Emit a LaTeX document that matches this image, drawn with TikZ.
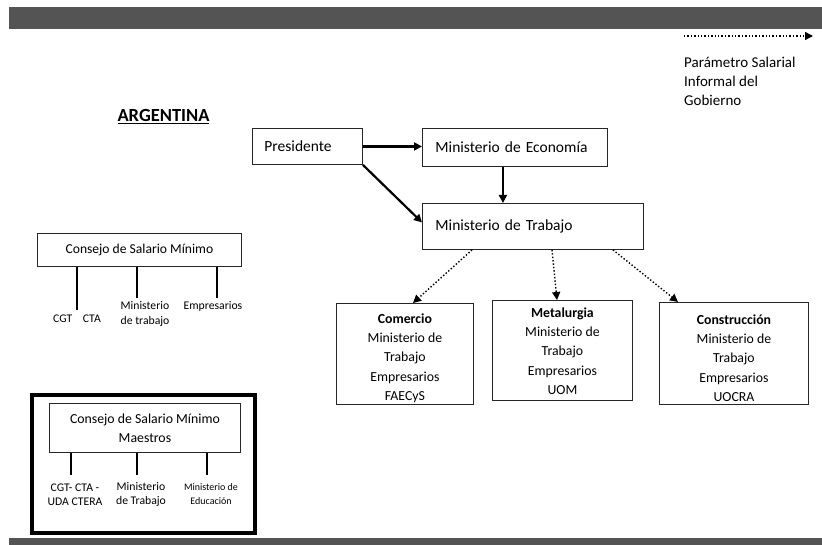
\documentclass[tikz,border=0pt]{standalone}
\usepackage{fontspec}
\setmainfont{Carlito}
\usepackage{xcolor}
\usepackage{tikz}
\usetikzlibrary{arrows.meta}
\usetikzlibrary{positioning}
\definecolor{barra}{HTML}{545454}
\newcommand{\alto}[1]{\rule{0pt}{#1}}

\begin{document}
\begin{tikzpicture}[x=1pt,y=-1pt,
    caja/.style={draw=black!85, line width=0.9pt, inner sep=0pt, anchor=north west},
    cajatexto/.style={caja, align=left, font=\fontsize{15.5}{18}\selectfont},
    sector/.style={caja, align=center, font=\fontsize{13.8}{19.2}\selectfont},
    etiqueta/.style={align=center, inner sep=0pt, anchor=north, font=\fontsize{11.7}{15}\selectfont},
    flecha/.style={line width=2.2pt, -{Triangle[length=8pt,width=8pt]}},
    punteada/.style={line width=1.4pt, dotted, -{Triangle[length=8pt,width=8pt]}},
    rama/.style={line width=1.8pt}]
        \useasboundingbox (0,0) rectangle (822,545);
        \fill[barra] (9,7) rectangle (822,29);
        \fill[barra] (9,538) rectangle (822,545);
        % leyenda
        \coordinate (ini) at (684,36);
        \coordinate (fin) at (813,36);
        \draw[punteada] (ini) -- (fin);
        \node[anchor=north west, align=left, inner sep=0pt, font=\fontsize{15}{19}\selectfont] (parametro) at (684,57) {Parámetro Salarial\\Informal del\\Gobierno};
        \node[font=\bfseries\fontsize{18.5}{22}\selectfont] (argentina) at (163.5,117) {\underline{ARGENTINA}};
        % gobierno
        \node[cajatexto, minimum width=110pt, minimum height=36pt, text width=86pt, inner xsep=12pt] (presidente) at (252,128) {Presidente};
        \node[cajatexto, minimum width=185pt, minimum height=38pt, text width=159pt, inner xsep=13pt] (economia) at (422,128) {Ministerio de Economía};
        \node[cajatexto, minimum width=221pt, minimum height=46pt, text width=195pt, inner xsep=13pt] (trabajo) at (422,203) {Ministerio de Trabajo};
        \draw[flecha] (presidente.east) -- (presidente.east -| economia.west);
        \draw[flecha] (presidente.south east) -- ([yshift=4pt]trabajo.west);
        \coordinate (eco) at ([xshift=-12pt]economia.south);
        \draw[flecha] (eco) -- (eco |- trabajo.north);
        % sectores
        \node[sector, minimum width=137pt, minimum height=101pt] (comercio) at (336,303) {\alto{18pt}\textbf{Comercio}\\Ministerio de\\Trabajo\\Empresarios\\FAECyS};
        \node[sector, minimum width=140pt, minimum height=100pt] (metalurgia) at (492,300) {\alto{11pt}\textbf{Metalurgia}\\Ministerio de\\Trabajo\\Empresarios\\UOM};
        \node[sector, minimum width=149pt, minimum height=102pt] (construccion) at (659,302) {\alto{19pt}\textbf{Construcción}\\Ministerio de\\Trabajo\\Empresarios\\UOCRA};
        \draw[punteada] ([xshift=50pt]trabajo.south west) -- ([xshift=77pt]comercio.north west);
        \draw[punteada] ([xshift=130pt]trabajo.south west) -- ([xshift=65pt]metalurgia.north west);
        \draw[punteada] ([xshift=191pt]trabajo.south west) -- ([xshift=19pt]construccion.north west);
        % consejo
        \node[caja, minimum width=204pt, minimum height=33pt, font=\fontsize{13.6}{16}\selectfont] (consejo) at (37,233) {Consejo de Salario Mínimo};
        \node[etiqueta] (cgt) at (77,315) {CGT\hspace{0.9em}CTA};
        \node[etiqueta] (mintrab) at (145,301) {Ministerio\\de trabajo};
        \node[etiqueta] (empresarios) at (213,301) {Empresarios};
        \coordinate (c1) at (77,310);
        \coordinate (c2) at (137,298);
        \coordinate (c3) at (217,298);
        \draw[rama] (consejo.south -| c1) -- (c1);
        \draw[rama] (consejo.south -| c2) -- (c2);
        \draw[rama] (consejo.south -| c3) -- (c3);
        % consejo maestros
        \node[draw, line width=3.5pt, minimum width=223pt, minimum height=138pt, anchor=north west] (marco) at (30,393) {};
        \node[caja, minimum width=191pt, minimum height=49pt, align=center, font=\fontsize{13.8}{19}\selectfont] (maestros) at (49,403) {Consejo de Salario Mínimo\\Maestros};
        \node[etiqueta, font=\fontsize{11.7}{14}\selectfont] (gremios) at (75,484) {CGT- CTA -\\UDA CTERA};
        \node[etiqueta, font=\fontsize{11.7}{14}\selectfont] (mtrab) at (141,482) {Ministerio\\de Trabajo};
        \node[etiqueta, font=\fontsize{10}{14}\selectfont] (medu) at (211,483) {Ministerio de\\Educación};
        \coordinate (m1) at (71,475);
        \coordinate (m2) at (137,475);
        \coordinate (m3) at (207,475);
        \draw[rama] (maestros.south -| m1) -- (m1);
        \draw[rama] (maestros.south -| m2) -- (m2);
        \draw[rama] (maestros.south -| m3) -- (m3);
\end{tikzpicture}
\end{document}
